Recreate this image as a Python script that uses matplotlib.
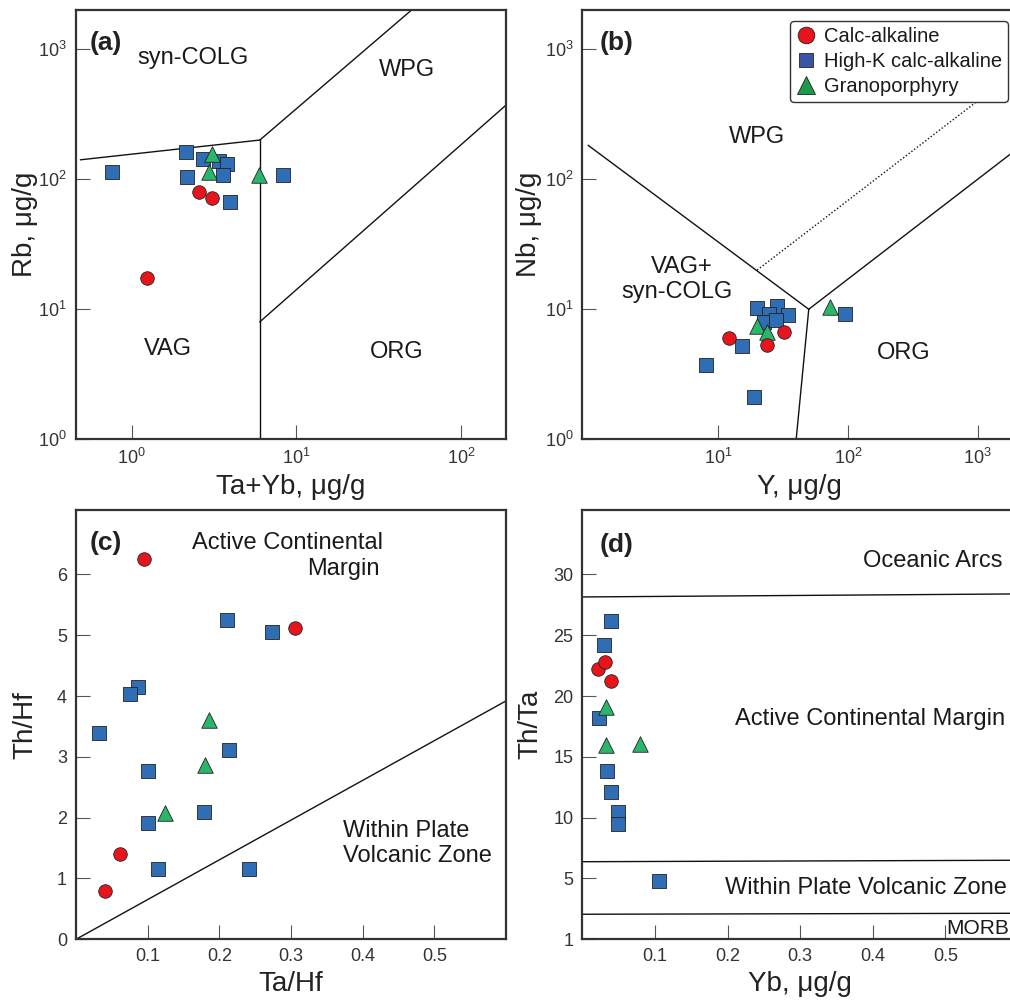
import numpy as np
import matplotlib
matplotlib.use("Agg")
import matplotlib.pyplot as plt
from matplotlib.lines import Line2D
from matplotlib.ticker import FixedLocator, NullLocator, FuncFormatter

plt.rcParams["font.family"] = ["Liberation Sans", "DejaVu Sans"]
plt.rcParams["mathtext.fontset"] = "custom"
plt.rcParams["mathtext.rm"] = "Liberation Sans"

# ---------------- data ----------------
# (a) Rb vs Ta+Yb
a_calc_x = [2.56, 3.09, 1.24]
a_calc_y = [80, 72, 17.3]
a_hk_x = [0.756, 2.13, 2.16, 2.72, 3.40, 3.77, 3.57, 3.95, 8.26]
a_hk_y = [113, 163, 104, 142, 139, 130, 108, 66.5, 108]
a_gp_x = [3.06, 2.95, 5.90]
a_gp_y = [156, 114, 107]

# (b) Nb vs Y
b_calc_x = [12.2, 23.7, 32.2]
b_calc_y = [6.0, 5.3, 6.67]
b_hk_x = [8.04, 18.9, 15.3, 19.9, 28.7, 24.7, 34.8, 22.6, 27.8, 95]
b_hk_y = [3.75, 2.12, 5.21, 10.3, 10.5, 9.2, 9.06, 7.95, 8.2, 9.2]
b_gp_x = [19.9, 24.0, 73]
b_gp_y = [7.37, 6.67, 10.4]

# (c) Th/Hf vs Ta/Hf
c_calc_x = [0.095, 0.305, 0.061, 0.041]
c_calc_y = [6.25, 5.12, 1.40, 0.79]
c_hk_x = [0.210, 0.273, 0.086, 0.076, 0.032, 0.214, 0.100, 0.179, 0.100, 0.114, 0.241]
c_hk_y = [5.25, 5.05, 4.15, 4.03, 3.39, 3.11, 2.77, 2.10, 1.92, 1.15, 1.15]
c_gp_x = [0.185, 0.180, 0.124]
c_gp_y = [3.61, 2.87, 2.07]

# (d) Th/Ta vs Yb
d_calc_x = [0.021, 0.031, 0.040]
d_calc_y = [22.2, 22.8, 21.2]
d_hk_x = [0.040, 0.030, 0.023, 0.034, 0.040, 0.049, 0.049, 0.106]
d_hk_y = [26.2, 24.2, 18.2, 13.8, 12.1, 10.5, 9.5, 4.8]
d_gp_x = [0.033, 0.032, 0.079]
d_gp_y = [19.1, 16.0, 16.1]

# discrimination boundaries
a_colg_x, a_colg_y = [0.49, 6.0], [141, 200]
a_wpg_x, a_wpg_y = [6.0, 50], [200, 2000]
a_vert_x, a_vert_y = [6.0, 6.0], [1, 200]
a_org_x, a_org_y = [6.0, 200], [8, 400]

b_left_x, b_left_y = [1.0, 50], [182, 10]
b_right_x, b_right_y = [50, 2000], [10, 170]
b_low_x, b_low_y = [40, 50], [1, 10]
b_dot_x, b_dot_y = [20, 1000], [20, 400]

c_line_x, c_line_y = [0, 0.6], [0, 3.92]

d_upper_x, d_upper_y = [0, 0.6], [28.15, 28.4]
d_mid_x, d_mid_y = [0, 0.6], [6.38, 6.5]
d_low_x, d_low_y = [0, 0.6], [2.06, 2.14]

log_ticks = [1, 10, 100, 1000]
c_xticks = [0.1, 0.2, 0.3, 0.4, 0.5]
c_yticks = [0, 1, 2, 3, 4, 5, 6]
d_yticks = [0, 5, 10, 15, 20, 25, 30]
d_ylabels = ["1", "5", "10", "15", "20", "25", "30"]

# ---------------- styling ----------------
RED = "#e8141c"
BLUE = "#2f6db4"
GREEN = "#2bb56b"
LEG_BLUE = "#3b55a5"
LEG_GREEN = "#1b9a48"
SPINE = "#333333"
TXT = "#1a1a1a"

W, H = 1010, 1001
fig = plt.figure(figsize=(W / 100, H / 100), dpi=100)


def px_axes(l, t, r, b):
    return fig.add_axes([l / W, 1 - b / H, (r - l) / W, (b - t) / H])


def style(ax, tsize):
    for s in ax.spines.values():
        s.set_linewidth(1.6)
        s.set_color(SPINE)
    ax.tick_params(direction="in", length=10, width=0.8, color="#555555",
                   labelsize=tsize, labelcolor="#333333", pad=6.5,
                   top=False, right=False)


def scatter_groups(ax, cx, cy, hx, hy, gx, gy):
    ax.scatter(hx, hy, marker="s", s=100, c=BLUE, edgecolors="#222222",
               linewidths=0.6, zorder=3)
    ax.scatter(gx, gy, marker="^", s=125, c=GREEN, edgecolors="#222222",
               linewidths=0.6, zorder=4)
    ax.scatter(cx, cy, marker="o", s=95, c=RED, edgecolors="#222222",
               linewidths=0.6, zorder=5)


def ftext(x, y, s, **kw):
    kw.setdefault("fontsize", 17)
    kw.setdefault("color", TXT)
    kw.setdefault("va", "baseline")
    fig.text(x / W, 1 - y / H, s, **kw)


def labels(ax, xl, yl, ycoord):
    ax.set_xlabel(xl, fontsize=20, color="#222222", labelpad=4)
    ax.set_ylabel(yl, fontsize=20, color="#222222")
    ax.yaxis.set_label_coords(ycoord, 0.5)


log_fmt = FuncFormatter(lambda v, _: r"$\mathregular{10^{%d}}$" % int(round(np.log10(v))))
LINE = dict(color="#111111", lw=1.0, zorder=2)

# ---------------- (a) ----------------
ax_a = px_axes(76, 10, 506, 439.3)
ax_a.set_xscale("log")
ax_a.set_yscale("log")
ax_a.set_xlim(0.46, 187)
ax_a.set_ylim(1, 2000)
for axis in (ax_a.xaxis, ax_a.yaxis):
    axis.set_major_locator(FixedLocator(log_ticks))
    axis.set_minor_locator(NullLocator())
    axis.set_major_formatter(log_fmt)
style(ax_a, 13)
ax_a.plot(a_colg_x, a_colg_y, **LINE)
ax_a.plot(a_wpg_x, a_wpg_y, **LINE)
ax_a.plot(a_vert_x, a_vert_y, **LINE)
ax_a.plot(a_org_x, a_org_y, **LINE)
scatter_groups(ax_a, a_calc_x, a_calc_y, a_hk_x, a_hk_y, a_gp_x, a_gp_y)
labels(ax_a, "Ta+Yb, μg/g", "Rb, μg/g", -0.088)

# ---------------- (b) ----------------
ax_b = px_axes(582.3, 10, 1016.7, 439.3)
ax_b.set_xscale("log")
ax_b.set_yscale("log")
ax_b.set_xlim(0.9, 2000)
ax_b.set_ylim(1, 2000)
for axis in (ax_b.xaxis, ax_b.yaxis):
    axis.set_major_locator(FixedLocator(log_ticks))
    axis.set_minor_locator(NullLocator())
    axis.set_major_formatter(log_fmt)
ax_b.xaxis.set_major_locator(FixedLocator([10, 100, 1000]))
style(ax_b, 13)
ax_b.plot(b_left_x, b_left_y, **LINE)
ax_b.plot(b_right_x, b_right_y, **LINE)
ax_b.plot(b_low_x, b_low_y, **LINE)
ax_b.plot(b_dot_x, b_dot_y, color="#111111", lw=1.0, ls=(0, (1, 1.5)), zorder=2)
scatter_groups(ax_b, b_calc_x, b_calc_y, b_hk_x, b_hk_y, b_gp_x, b_gp_y)
labels(ax_b, "Y, μg/g", "Nb, μg/g", -0.093)

handles = [
    Line2D([], [], ls="none", marker="o", ms=12, mfc=RED, mec="#222222", mew=0.6),
    Line2D([], [], ls="none", marker="s", ms=9.5, mfc=LEG_BLUE, mec="#222222", mew=0.6),
    Line2D([], [], ls="none", marker="^", ms=13, mfc=LEG_GREEN, mec="#222222", mew=0.6),
]
leg = ax_b.legend(handles, ["Calc-alkaline", "High-K calc-alkaline", "Granoporphyry"],
                  loc="upper right", bbox_to_anchor=(1008 / W, 1 - 20.7 / H),
                  bbox_transform=fig.transFigure, borderaxespad=0,
                  fontsize=14.5, handlelength=1.0, handletextpad=0.4,
                  borderpad=0.3, labelspacing=0.3, fancybox=True, framealpha=1)
leg.get_frame().set_edgecolor("#333333")
leg.get_frame().set_linewidth(1.0)
leg.set_zorder(10)
for t in leg.get_texts():
    t.set_color(TXT)

# ---------------- (c) ----------------
ax_c = px_axes(76, 510, 506, 939.3)
ax_c.set_xlim(0, 0.6)
ax_c.set_ylim(0, 7.06)
ax_c.set_xticks(c_xticks)
ax_c.set_xticklabels([f"{v:.1f}" for v in c_xticks])
ax_c.set_yticks(c_yticks)
style(ax_c, 13)
ax_c.plot(c_line_x, c_line_y, **LINE)
scatter_groups(ax_c, c_calc_x, c_calc_y, c_hk_x, c_hk_y, c_gp_x, c_gp_y)
labels(ax_c, "Ta/Hf", "Th/Hf", -0.088)

# ---------------- (d) ----------------
ax_d = px_axes(582.3, 510, 1018, 939.3)
ax_d.set_xlim(0, 0.6)
ax_d.set_ylim(0, 35.3)
ax_d.set_xticks(c_xticks)
ax_d.set_xticklabels([f"{v:.1f}" for v in c_xticks])
ax_d.set_yticks(d_yticks)
ax_d.set_yticklabels(d_ylabels)
style(ax_d, 13)
ax_d.plot(d_upper_x, d_upper_y, **LINE)
ax_d.plot(d_mid_x, d_mid_y, **LINE)
ax_d.plot(d_low_x, d_low_y, **LINE)
scatter_groups(ax_d, d_calc_x, d_calc_y, d_hk_x, d_hk_y, d_gp_x, d_gp_y)
labels(ax_d, "Yb, μg/g", "Th/Ta", -0.089)

# ---------------- field names and panel letters ----------------
bold = dict(fontsize=19, fontweight="bold", color="#222222")
ftext(90, 50, "(a)", **bold)
ftext(600, 50, "(b)", **bold)
ftext(90, 550, "(c)", **bold)
ftext(600, 551.7, "(d)", **bold)

ftext(193, 64.3, "syn-COLG", ha="center")
ftext(407.3, 76, "WPG", ha="center")
ftext(168, 355, "VAG", ha="center")
ftext(396.7, 357.7, "ORG", ha="center")

ftext(757.3, 142.7, "WPG", ha="center")
ftext(681.7, 273.3, "VAG+", ha="center")
ftext(677.3, 297.7, "syn-COLG", ha="center")
ftext(904, 359, "ORG", ha="center")

ftext(382.7, 549, "Active Continental", ha="right")
ftext(380, 575, "Margin", ha="right")
ftext(343.3, 837.3, "Within Plate", ha="left")
ftext(343.3, 861.7, "Volcanic Zone", ha="left")

ftext(1002.7, 566.7, "Oceanic Arcs", ha="right")
ftext(1005, 725, "Active Continental Margin", ha="right")
ftext(1006.7, 894.3, "Within Plate Volcanic Zone", ha="right")
ftext(946, 934, "MORB", ha="left", fontsize=15)

fig.savefig("out.png", dpi=100)
